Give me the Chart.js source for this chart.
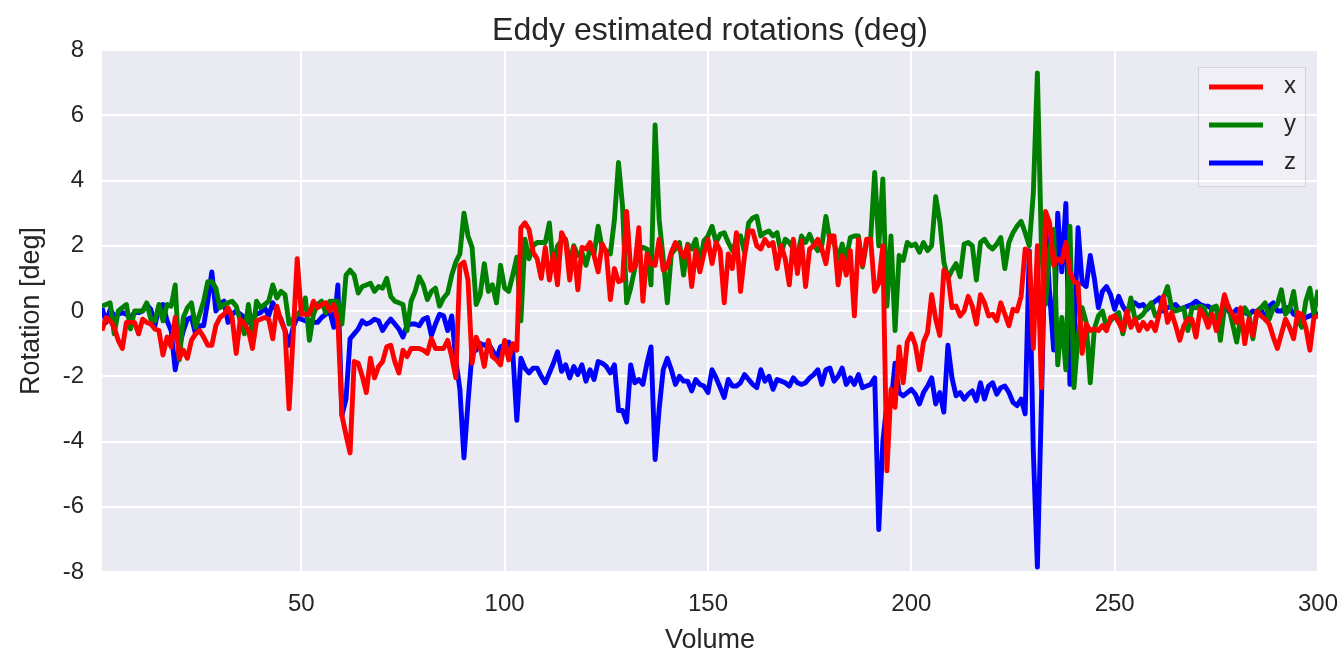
<!DOCTYPE html>
<html>
<head>
<meta charset="utf-8">
<script src="https://cdn.jsdelivr.net/npm/chart.js@4"></script>
<style>
  html, body { margin: 0; padding: 0; background: #ffffff; }
  #c { display: block; }
</style>
</head>
<body>
<canvas id="c" width="1344" height="654"></canvas>
<script>
// ---------- DATA ----------
const chartTitle = 'Eddy estimated rotations (deg)';
const xAxisLabel = 'Volume';
const yAxisLabel = 'Rotation [deg]';
const seriesNames = ['x', 'y', 'z'];
const xTicks = [50, 100, 150, 200, 250, 300];
const yTicks = [-8, -6, -4, -2, 0, 2, 4, 6, 8];
const yTickLabels = ['-8', '-6', '-4', '-2', '0', '2', '4', '6', '8'];
const volumes = Array.from({ length: 300 }, (_, i) => i + 1);

const xRot = [
  -0.6, -0.2, -0.3, -0.5, -0.9, -1.15, -0.35, -0.35, -0.35, -0.7,
  -0.25, -0.35, -0.4, -0.55, -0.6, -1.35, -0.8, -1.1, -0.2, -1.45,
  -1.2, -1.45, -0.9, -0.7, -0.6, -0.8, -1.05, -1.05, -0.45, -0.2,
  -0.1, 0.1, -0.2, -1.3, -0.25, -0.4, -0.6, -1.15, -0.3, -0.25,
  -0.2, -0.25, -0.85, 0.15, -0.3, -0.6, -3.0, -0.75, 1.6, -0.1,
  -0.1, -0.1, 0.3, 0.1, 0.2, 0.25, 0.0, 0.2, -0.3, -3.2,
  -3.8, -4.35, -1.55, -1.6, -2.0, -2.5, -1.45, -2.05, -1.7, -1.55,
  -1.1, -1.05, -1.55, -1.9, -1.2, -1.4, -1.15, -1.15, -1.15, -1.2,
  -1.3, -0.85, -1.15, -1.15, -1.15, -0.9, -1.4, -2.05, 1.4, 1.5,
  0.95, -1.6, -0.8, -1.1, -1.7, -0.9, -1.4, -1.5, -1.65, -0.9,
  -1.5, -1.0, -1.2, 2.55, 2.7, 2.5, 1.8, 1.6, 1.0, 1.95,
  0.95, 1.75, 0.8, 2.4, 2.15, 0.95, 1.95, 0.65, 1.95, 1.9,
  2.1, 1.7, 1.2, 2.05, 1.8, 0.35, 1.3, 0.9, 0.95, 3.05,
  1.25, 1.35, 2.55, 0.3, 1.75, 1.45, 1.4, 2.2, 1.25, 1.35,
  1.8, 2.1, 1.9, 1.65, 2.0, 0.75, 1.85, 1.2, 1.75, 2.2,
  1.45, 2.1, 1.85, 0.25, 1.75, 1.3, 2.4, 0.6, 1.7, 2.45,
  2.45, 2.0, 1.9, 2.2, 2.0, 2.1, 1.3, 2.0, 1.6, 0.8,
  2.2, 1.15, 2.15, 0.75, 1.9, 2.0, 2.2, 1.9, 1.45, 2.3,
  2.3, 0.8, 1.7, 1.1, 1.85, -0.15, 2.2, 1.4, 2.2, 2.2,
  0.6, 0.85, 2.0, -4.9, -2.4, -2.95, -1.1, -2.2, -0.95, -0.7,
  -1.05, -1.8, -0.95, -0.65, 0.5, -0.25, -0.75, 1.25, 1.1, 0.1,
  0.15, -0.15, 0.0, 0.45, 0.15, -0.4, 0.5, 0.25, -0.15, -0.1,
  -0.3, 0.25, -0.1, -0.45, 0.05, 0.0, 0.45, 1.9, 1.8, -1.15,
  2.0, -2.35, 3.05, 2.7, 1.4, 1.6, 1.5, 2.1, 1.2, 0.9,
  0.85, -1.3, -0.4, -0.6, -0.55, -0.6, -0.45, -0.6, -0.2, -0.15,
  -0.35, -0.6, 0.0, -0.5, -0.25, -0.6, -0.35, -0.55, -0.35, -0.6,
  -0.05, 0.45, -0.35, -0.05, -0.45, -0.9, -0.45, -0.25, -0.25, -0.8,
  0.05, -0.15, -0.5, -0.1, -0.6, -0.15, 0.5, 0.1, -0.1, -0.35,
  0.1, -1.0, -0.25, -0.75, 0.0, -0.15, -0.25, -0.4, -0.8, -1.15,
  -0.7, -0.25, -0.5, -0.85, -0.05, -0.1, -0.5, -1.2, -0.2, -0.15
];

const yRot = [
  0.15, 0.2, 0.25, -0.7, 0.0, 0.1, 0.2, -0.55, 0.0, 0.0,
  0.0, 0.25, -0.25, -0.3, 0.2, -0.3, 0.2, 0.15, 0.8, -1.5,
  -0.2, 0.1, 0.25, -0.5, -0.1, 0.3, 0.9, 0.9, 0.7, 0.1,
  0.2, 0.25, 0.3, 0.15, -0.3, -0.7, 0.2, -0.7, 0.3, 0.1,
  0.2, 0.3, 0.8, 0.4, 0.6, 0.5, -0.4, -0.25, -0.1, 0.0,
  0.4, -0.9, -0.1, 0.2, 0.3, -0.05, 0.3, 0.3, 0.3, -0.4,
  1.1, 1.25, 1.1, 0.55, 0.75, 0.8, 0.85, 0.6, 0.75, 0.7,
  1.0, 0.45, 0.3, 0.25, 0.2, -0.6, 0.3, 0.6, 1.05, 0.8,
  0.35, 0.6, 0.7, 0.15, 0.4, 0.55, 1.1, 1.5, 1.75, 3.0,
  2.3, 1.95, 0.2, 0.5, 1.45, 0.6, 0.8, 0.25, 1.4, 0.7,
  0.6, 1.1, 1.65, -0.3, 2.2, 1.6, 2.0, 2.1, 2.1, 2.1,
  2.7, 1.3, 2.0, 2.15, 2.2, 1.45, 2.0, 1.7, 1.8, 1.4,
  1.9, 1.75, 2.6, 1.9, 1.85, 1.75, 2.8, 4.55, 3.2, 0.25,
  0.7, 1.3, 1.85, 1.95, 1.9, 0.8, 5.7, 2.8, 1.6, 0.25,
  1.75, 1.9, 2.1, 1.1, 2.05, 1.9, 2.2, 1.45, 2.15, 2.3,
  2.6, 2.1, 2.35, 2.4, 2.1, 1.85, 2.15, 2.3, 1.8, 2.7,
  2.85, 2.9, 2.3, 2.4, 2.45, 2.3, 2.4, 1.75, 2.2, 2.1,
  1.9, 1.7, 2.3, 2.1, 2.35, 2.05, 1.85, 2.0, 2.9, 2.15,
  2.1, 1.6, 2.05, 1.6, 2.25, 2.3, 2.3, 1.35, 2.1, 2.2,
  4.25, 2.0, 4.05, 0.15, 2.3, -0.6, 1.7, 1.55, 2.1, 2.0,
  2.05, 1.8, 2.1, 1.85, 2.0, 3.5, 2.75, 1.5, 1.0, 1.25,
  1.45, 1.05, 2.05, 2.1, 2.0, 0.95, 2.1, 2.2, 2.0, 1.9,
  2.05, 2.25, 1.3, 2.1, 2.4, 2.6, 2.75, 2.4, 2.0, 3.6,
  7.3, 1.9, 0.2, 1.9, 2.5, -1.65, -0.2, -1.8, 2.6, -2.35,
  -0.8, 0.1, -0.35, -2.2, -0.55, -0.15, 0.0, -0.5, -0.3, -0.15,
  -0.05, -0.7, -0.2, 0.4, -0.25, -0.2, -0.1, 0.1, 0.25, -0.15,
  -0.05, 0.4, 0.75, 0.1, 0.0, 0.05, 0.1, -0.6, 0.1, 0.1,
  0.15, 0.1, -0.35, 0.1, 0.15, -0.9, 0.1, 0.15, -0.4, -0.95,
  -0.2, 0.1, -0.1, -0.85, 0.0, 0.1, 0.25, -0.25, 0.1, 0.2,
  0.65, -0.1, 0.05, 0.6, -0.25, -0.5, 0.3, 0.7, -0.1, 0.65
];

const zRot = [
  0.1, -0.35, 0.05, -0.15, -0.1, -0.05, -0.1, -0.2, -0.05, -0.05,
  0.0, 0.2, 0.05, -0.45, 0.1, 0.2, -0.3, -0.6, -1.8, -1.1,
  -0.6, -0.25, -0.2, -0.7, -0.45, -0.45, 0.3, 1.2, 0.0, 0.2,
  0.3, -0.35, -0.1, 0.0, -0.1, -0.2, -0.35, -0.2, -0.1, -0.05,
  0.1, -0.15, 0.25, 0.0, -0.25, -0.6, -1.05, -0.5, -0.2, -0.25,
  -0.3, -0.3, -0.35, -0.35, -0.2, -0.1, 0.0, -0.5, 0.8, -3.2,
  -2.7, -0.85, -0.7, -0.55, -0.3, -0.4, -0.35, -0.25, -0.3, -0.6,
  -0.4, -0.25, -0.4, -0.55, -0.8, -0.45, -0.4, -0.4, -0.45, -0.25,
  -0.2, -0.75, -0.4, -0.1, -0.15, -0.6, -0.15, -1.5, -2.4, -4.5,
  -2.8, -1.25, -1.2, -1.0, -1.05, -1.0, -1.2, -1.45, -1.1, -1.05,
  -0.95, -1.25, -3.35, -1.45, -1.75, -1.9, -1.75, -1.75, -2.0, -2.2,
  -1.9, -1.6, -1.25, -1.85, -1.65, -2.05, -1.7, -1.95, -1.65, -2.15,
  -1.8, -2.1, -1.55, -1.6, -1.7, -1.9, -1.65, -3.05, -3.05, -3.4,
  -1.65, -2.2, -2.1, -2.25, -1.6, -1.1, -4.55, -3.0, -1.8, -1.45,
  -1.8, -2.25, -2.0, -2.15, -2.15, -2.45, -2.1, -2.25, -2.3, -2.5,
  -1.8, -2.05, -2.35, -2.65, -2.1, -2.3, -2.3, -2.2, -1.95, -2.1,
  -2.25, -2.35, -1.8, -2.15, -2.0, -2.4, -2.1, -2.15, -2.2, -2.3,
  -2.05, -2.2, -2.25, -2.2, -2.05, -1.95, -1.8, -2.25, -1.8, -1.75,
  -2.15, -2.0, -1.75, -2.25, -2.05, -2.25, -1.95, -2.35, -2.3, -2.25,
  -2.05, -6.7, -4.0, -2.85, -2.85, -1.6, -2.5, -2.6, -2.5, -2.4,
  -2.55, -2.85, -2.5, -2.3, -2.05, -2.85, -2.5, -3.1, -1.05, -2.05,
  -2.6, -2.5, -2.7, -2.55, -2.45, -2.75, -2.2, -2.7, -2.3, -2.2,
  -2.55, -2.35, -2.3, -2.5, -2.8, -2.9, -2.7, -3.15, 1.85, -4.3,
  -7.85, -2.8, 2.7, 0.55, -1.2, 3.0, 1.2, 3.3, -2.25, -1.0,
  2.55, 0.85, 0.75, 1.7, 1.0, 0.1, 0.6, 0.75, 0.5, 0.05,
  0.45, 0.15, -0.05, 0.2, 0.25, 0.15, 0.2, 0.05, 0.2, 0.3,
  0.4, 0.0, 0.1, 0.15, 0.2, 0.05, 0.1, 0.15, 0.2, 0.3,
  0.2, 0.15, 0.15, 0.05, 0.1, -0.15, 0.25, 0.0, -0.1, 0.05,
  -0.05, -0.05, -0.1, 0.0, -0.05, 0.05, -0.25, 0.15, 0.25, 0.0,
  0.0, 0.1, 0.1, -0.1, -0.15, -0.15, -0.2, -0.15, -0.1, -0.05
];

const seriesColors = ['#ff0000', '#008000', '#0000ff'];
const seriesValues = [xRot, yRot, zRot];

// ---------- STYLE ----------
const FONT = '"Liberation Sans", Arial, Helvetica, sans-serif';
const TEXT = '#262626';
const PLOT_BG = '#EAEAF2';

const plotBg = {
  id: 'plotBg',
  beforeDraw(chart) {
    const { ctx, chartArea: a } = chart;
    ctx.save();
    ctx.fillStyle = PLOT_BG;
    ctx.fillRect(a.left, a.top, a.right - a.left, a.bottom - a.top);
    ctx.restore();
  }
};

const axesTitle = {
  id: 'axesTitle',
  afterDraw(chart) {
    const { ctx, chartArea: a } = chart;
    ctx.save();
    ctx.fillStyle = TEXT;
    ctx.font = '32px ' + FONT;
    ctx.textAlign = 'center';
    ctx.textBaseline = 'middle';
    ctx.fillText(chartTitle, (a.left + a.right) / 2, 31);
    ctx.restore();
  }
};

const boxLegend = {
  id: 'boxLegend',
  afterDraw(chart) {
    const { ctx, chartArea: a } = chart;
    const w = 108, h = 120;
    const x0 = a.right - 12 - w, y0 = a.top + 17;
    ctx.save();
    ctx.fillStyle = 'rgba(255,255,255,0.25)';
    ctx.strokeStyle = 'rgba(200,200,210,0.7)';
    ctx.lineWidth = 1;
    ctx.fillRect(x0, y0, w, h);
    ctx.strokeRect(x0 + 0.5, y0 + 0.5, w - 1, h - 1);
    chart.data.datasets.forEach((ds, i) => {
      const cy = y0 + 20 + i * 38;
      ctx.strokeStyle = ds.borderColor;
      ctx.lineWidth = 5;
      ctx.lineCap = 'butt';
      ctx.beginPath();
      ctx.moveTo(x0 + 11, cy);
      ctx.lineTo(x0 + 65, cy);
      ctx.stroke();
      ctx.fillStyle = TEXT;
      ctx.font = '24px ' + FONT;
      ctx.textBaseline = 'middle';
      ctx.textAlign = 'left';
      ctx.fillText(ds.label, x0 + 86, cy - 1);
    });
    ctx.restore();
  }
};

const datasets = seriesNames.map((name, k) => ({
  label: name,
  data: seriesValues[k].map((v, i) => ({ x: volumes[i], y: v })),
  borderColor: seriesColors[k],
  backgroundColor: seriesColors[k],
  borderWidth: 4.9,
  pointRadius: 0,
  tension: 0,
  fill: false,
  borderJoinStyle: 'round'
}));

new Chart(document.getElementById('c'), {
  type: 'line',
  data: { datasets },
  plugins: [plotBg, boxLegend, axesTitle],
  options: {
    responsive: false,
    animation: false,
    devicePixelRatio: 1,
    layout: { padding: { left: 0, right: 26, top: 50, bottom: 0 } },
    plugins: {
      legend: { display: false },
      tooltip: { enabled: false },
      title: { display: false }
    },
    scales: {
      x: {
        type: 'linear',
        min: 1,
        max: 300,
        afterBuildTicks(s) { s.ticks = xTicks.map(v => ({ value: v })); },
        afterFit(s) { s.height = 82; s.paddingLeft = 0; s.paddingRight = 0; },
        ticks: {
          color: TEXT,
          font: { family: FONT, size: 24 },
          padding: 18,
          maxRotation: 0,
          autoSkip: false,
          callback: (v) => String(v)
        },
        grid: { color: '#ffffff', lineWidth: 2, drawTicks: false },
        border: { display: false },
        title: {
          display: true,
          text: xAxisLabel,
          color: TEXT,
          font: { family: FONT, size: 27, lineHeight: 1.0 },
          padding: { top: 0, bottom: 0 }
        }
      },
      y: {
        type: 'linear',
        min: -8,
        max: 8,
        afterBuildTicks(s) { s.ticks = yTicks.map(v => ({ value: v })); },
        afterFit(s) { s.width = 102; s.paddingTop = 0; s.paddingBottom = 0; },
        ticks: {
          color: TEXT,
          font: { family: FONT, size: 24 },
          padding: 18,
          autoSkip: false,
          callback: (v) => yTickLabels[yTicks.indexOf(v)]
        },
        grid: { color: '#ffffff', lineWidth: 2, drawTicks: false },
        border: { display: false },
        title: {
          display: true,
          text: yAxisLabel,
          color: TEXT,
          font: { family: FONT, size: 27 },
          padding: { top: 15, bottom: 0 }
        }
      }
    }
  }
});
</script>
</body>
</html>
